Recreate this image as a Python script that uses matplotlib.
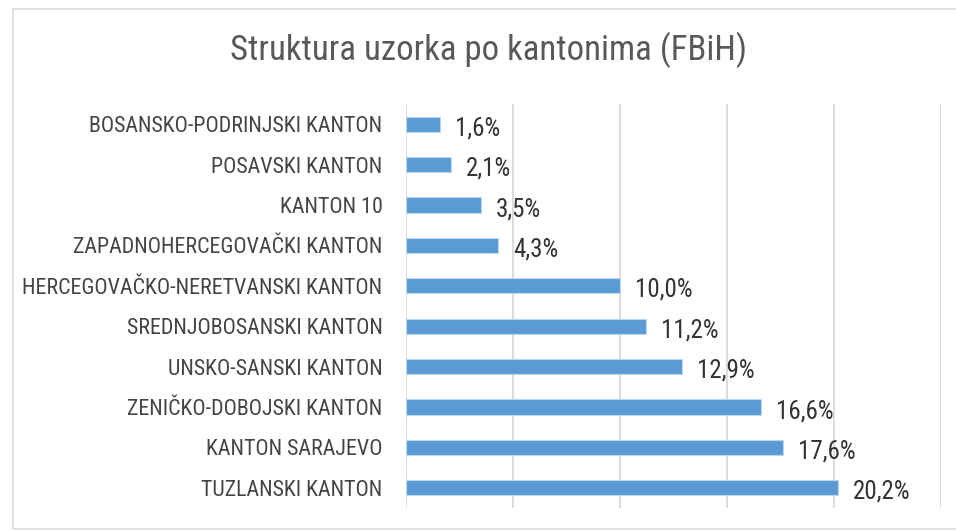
import matplotlib

matplotlib.use("Agg")
import matplotlib.pyplot as plt
from matplotlib.patches import Rectangle

# ---------------------------------------------------------------------------
# Data
# ---------------------------------------------------------------------------

cantons = [
    "BOSANSKO-PODRINJSKI KANTON",
    "POSAVSKI KANTON",
    "KANTON 10",
    "ZAPADNOHERCEGOVAČKI KANTON",
    "HERCEGOVAČKO-NERETVANSKI KANTON",
    "SREDNJOBOSANSKI KANTON",
    "UNSKO-SANSKI KANTON",
    "ZENIČKO-DOBOJSKI KANTON",
    "KANTON SARAJEVO",
    "TUZLANSKI KANTON",
]
shares = [1.6, 2.1, 3.5, 4.3, 10.0, 11.2, 12.9, 16.6, 17.6, 20.2]
x_ticks = [0, 5, 10, 15, 20, 25]

title = "Struktura uzorka po kantonima (FBiH)"

# ---------------------------------------------------------------------------
# Style
# ---------------------------------------------------------------------------

plt.rcParams["font.family"] = ["Roboto Condensed", "DejaVu Sans"]

BAR = "#5B9BD5"
GRID = "#D9D9D9"
TITLE = "#595959"
LABEL = "#444444"
VALUE = "#333333"

fig = plt.figure(figsize=(9.56, 5.31), dpi=100)
fig.patch.set_facecolor("white")

# outer chart frame
fig.patches.append(
    Rectangle((13 / 956, 2 / 531), 1.0, 520 / 531, transform=fig.transFigure,
              fill=False, edgecolor=GRID, linewidth=1.2)
)

ax = fig.add_axes([406 / 956, 23 / 531, 535 / 956, 404 / 531])

y = list(range(len(cantons)))
ax.barh(y, shares, height=0.38, color=BAR, edgecolor="#BDD7EE", linewidth=0.8, zorder=3)

for yi, v in zip(y, shares):
    ax.annotate(f"{v:.1f}%".replace(".", ","), (v, yi), xytext=(15, -4),
                textcoords="offset pixels", ha="left", va="center",
                fontsize=18, color=VALUE)

ax.set_xlim(0, 25)
ax.set_ylim(len(cantons) - 0.5, -0.5)
ax.set_xticks(x_ticks)
ax.set_xticklabels([])
ax.set_yticks(y)
ax.set_yticklabels(cantons, fontsize=15.8, color=LABEL)
ax.tick_params(axis="both", length=0, pad=17)
ax.grid(axis="x", color=GRID, linewidth=1.3, zorder=0)
for s in ax.spines.values():
    s.set_visible(False)

fig.text(489 / 956, 1 - 50 / 531, title, ha="center", va="center",
         fontsize=25, color=TITLE)

fig.savefig("out.png", dpi=100)
